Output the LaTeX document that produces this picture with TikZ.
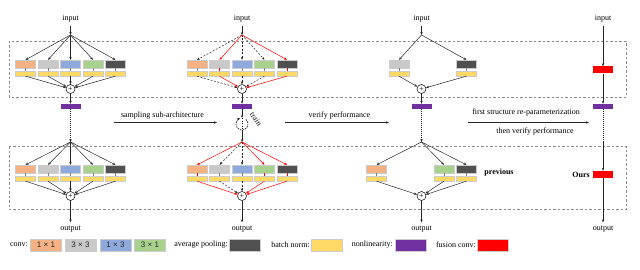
\documentclass[tikz,border=0pt]{standalone}
\usepackage{fontspec}
\setmainfont{Liberation Serif}
\newfontfamily\legendfont{Liberation Sans}
\usetikzlibrary{arrows.meta}

\definecolor{convA}{HTML}{F4B183}
\definecolor{convB}{HTML}{C9C9C9}
\definecolor{convC}{HTML}{8EA9DB}
\definecolor{convD}{HTML}{A9D18E}
\definecolor{poolgray}{HTML}{505050}
\definecolor{bnyellow}{HTML}{FFD966}
\definecolor{relupurple}{HTML}{7030A0}
\definecolor{fusered}{HTML}{FF0000}

\tikzset{
  convbox/.style={draw=white!80!black, line width=0.3pt, minimum width=20pt, minimum height=8pt, inner sep=0pt},
  bnbox/.style={fill=bnyellow, draw=white!80!black, line width=0.3pt, minimum width=20pt, minimum height=5pt, inner sep=0pt},
  relubox/.style={fill=relupurple, minimum width=20pt, minimum height=5pt, inner sep=0pt},
  fusebox/.style={fill=fusered, minimum width=20pt, minimum height=7pt, inner sep=0pt},
  addop/.style={circle, draw, line width=0.5pt, inner sep=0pt, minimum size=9pt},
  legbox/.style={draw=white!80!black, minimum width=31pt, minimum height=12pt, inner sep=0pt,
    font=\legendfont\fontsize{8}{9}\selectfont, text=black!85},
  arr/.style={-{Stealth[length=3pt,width=2.4pt]}, line width=0.5pt, black!85},
  pick/.style={arr, red},
  skip/.style={arr, dashed, dash pattern=on 2pt off 1.5pt},
  linkpick/.style={red, line width=0.4pt},
  linkskip/.style={black!50, line width=0.4pt},
  chain/.style={arr, dash pattern=on 1pt off 1pt, line width=0.8pt},
  frame/.style={black!45, dash pattern=on 2.5pt off 2pt, line width=0.5pt}
}

\begin{document}
\begin{tikzpicture}[x=1pt, y=-1pt, font=\fontsize{8}{9}\selectfont]
  \useasboundingbox (0,0) rectangle (640,270);

  % Dashed frames
  \draw[frame] (9,41) rectangle (626,97);
  \draw[frame] (9,146) rectangle (626,209.5);

  % Column 1, top block
  \node (in1) at (70.5,19) {input};
  \coordinate (fan1t) at (70.5,35);
  \draw[arr] (in1) -- (fan1t);
  \node[addop] (add1t) at (70.5,89) {+};
  \node[relubox] (r1) at (70.5,106.5) {};
  \foreach \k/\c in {1/convA,2/convB,3/convC,4/convD,5/poolgray} {
    \node[convbox, fill=\c] (c1t\k) at ({70.5+(\k-3)*22.5},64) {};
    \node[bnbox] (b1t\k) at ({70.5+(\k-3)*22.5},73.5) {};
    \draw[linkskip] (c1t\k) -- (b1t\k);
    \draw[arr] (fan1t) -- (c1t\k.north);
    \draw[arr] (b1t\k.south) -- (add1t);
  }
  \draw[arr] (add1t) -- (r1);
  \coordinate (fan1b) at (70.5,142);
  \draw[chain] (r1) -- (fan1b);

  % Column 1, bottom block
  \node[addop] (add1b) at (70.5,196) {+};
  \foreach \k/\c in {1/convA,2/convB,3/convC,4/convD,5/poolgray} {
    \node[convbox, fill=\c] (c1b\k) at ({70.5+(\k-3)*22.5},169) {};
    \node[bnbox] (b1b\k) at ({70.5+(\k-3)*22.5},178.5) {};
    \draw[linkskip] (c1b\k) -- (b1b\k);
    \draw[arr] (fan1b) -- (c1b\k.north);
    \draw[arr] (b1b\k.south) -- (add1b);
  }
  \node (out1) at (70.5,229) {output};
  \draw[arr] (add1b) -- (out1);

  % Column 2, top block (sampled paths in red)
  \node (in2) at (242,19) {input};
  \coordinate (fan2t) at (242,35);
  \draw[arr] (in2) -- (fan2t);
  \node[addop] (add2t) at (242,89) {+};
  \node[relubox] (r2) at (242,106.5) {};
  \foreach \k/\c/\s in {1/convA/skip,2/convB/pick,3/convC/skip,4/convD/skip,5/poolgray/pick} {
    \node[convbox, fill=\c] (c2t\k) at ({242+(\k-3)*22.5},64) {};
    \node[bnbox] (b2t\k) at ({242+(\k-3)*22.5},73.5) {};
    \draw[link\s] (c2t\k) -- (b2t\k);
    \draw[\s] (fan2t) -- (c2t\k.north);
    \draw[\s] (b2t\k.south) -- (add2t);
  }
  \draw[arr] (add2t) -- (r2);
  % train loop
  \coordinate (loop) at (242,124);
  \coordinate (looptop) at (242,118);
  \coordinate (loopbot) at (242,130);
  \coordinate (fan2b) at (242,142);
  \draw[arr] (r2) -- (looptop);
  \draw[dotted, line width=0.6pt] (looptop) -- (loopbot);
  \draw[arr] (loopbot) -- (fan2b);
  \draw[dashed, dash pattern=on 1.5pt off 1pt, line width=0.6pt, -{Stealth[length=2.5pt,width=2.2pt]}]
    (loop) ++(50:6pt) arc[start angle=50, end angle=-250, radius=6pt];
  \node[rotate=-55, inner sep=1pt] (trainlbl) at (256,119) {train};

  % Column 2, bottom block
  \node[addop] (add2b) at (242,196) {+};
  \foreach \k/\c/\s in {1/convA/pick,2/convB/skip,3/convC/skip,4/convD/pick,5/poolgray/pick} {
    \node[convbox, fill=\c] (c2b\k) at ({242+(\k-3)*22.5},169) {};
    \node[bnbox] (b2b\k) at ({242+(\k-3)*22.5},178.5) {};
    \draw[link\s] (c2b\k) -- (b2b\k);
    \draw[\s] (fan2b) -- (c2b\k.north);
    \draw[\s] (b2b\k.south) -- (add2b);
  }
  \node (out2) at (242,229) {output};
  \draw[arr] (add2b) -- (out2);

  % Column 3, top block
  \node (in3) at (421.5,19) {input};
  \coordinate (fan3t) at (421.5,35);
  \draw[arr] (in3) -- (fan3t);
  \node[addop] (add3t) at (421.5,89) {+};
  \node[relubox] (r3) at (421.5,106.5) {};
  \foreach \k/\c in {2/convB,5/poolgray} {
    \node[convbox, fill=\c] (c3t\k) at ({421.5+(\k-3)*22.5},64) {};
    \node[bnbox] (b3t\k) at ({421.5+(\k-3)*22.5},73.5) {};
    \draw[linkskip] (c3t\k) -- (b3t\k);
    \draw[arr] (fan3t) -- (c3t\k.north);
    \draw[arr] (b3t\k.south) -- (add3t);
  }
  \draw[arr] (add3t) -- (r3);
  \coordinate (fan3b) at (421.5,142);
  \draw[chain] (r3) -- (fan3b);

  % Column 3, bottom block
  \node[addop] (add3b) at (421.5,196) {+};
  \foreach \k/\c in {1/convA,4/convD,5/poolgray} {
    \node[convbox, fill=\c] (c3b\k) at ({421.5+(\k-3)*22.5},169) {};
    \node[bnbox] (b3b\k) at ({421.5+(\k-3)*22.5},178.5) {};
    \draw[linkskip] (c3b\k) -- (b3b\k);
    \draw[arr] (fan3b) -- (c3b\k.north);
    \draw[arr] (b3b\k.south) -- (add3b);
  }
  \node (out3) at (421.5,229) {output};
  \draw[arr] (add3b) -- (out3);
  \node (prev) at (499,172.5) {\textbf{previous}};

  % Column 4, fused
  \node (in4) at (603,19) {input};
  \node[fusebox] (f4t) at (603,70) {};
  \node[relubox] (r4) at (603,106.5) {};
  \draw[arr] (in4) -- (f4t);
  \draw[arr] (f4t) -- (r4);
  \coordinate (fan4b) at (603,142);
  \draw[chain, -] (r4) -- (fan4b);
  \node[fusebox] (f4b) at (603,174.5) {};
  \draw[arr] (fan4b) -- (f4b);
  \node (out4) at (603,229) {output};
  \draw[arr] (f4b) -- (out4);
  \node (ours) at (581,174.5) {\textbf{Ours}};

  % Steps between columns
  \coordinate (s1a) at (114,122.5);
  \coordinate (s1b) at (217,122.5);
  \draw[arr] (s1a) -- (s1b);
  \node (s1lbl) at (162.5,115.5) {sampling sub-architecture};
  \coordinate (s2a) at (285,122.5);
  \coordinate (s2b) at (389,122.5);
  \draw[arr] (s2a) -- (s2b);
  \node (s2lbl) at (339.5,116) {verify performance};
  \coordinate (s3a) at (468,122.5);
  \coordinate (s3b) at (589,122.5);
  \draw[arr] (s3a) -- (s3b);
  \node (s3lbl) at (526,112.5) {first structure re-parameterization};
  \node (s4lbl) at (535,131.5) {then verify performance};

  % Legend
  \node[anchor=east, inner sep=1pt] (lconv) at (29,245) {conv:};
  \node[legbox, fill=convA] (k11) at (46,245) {1 × 1};
  \node[legbox, fill=convB] (k33) at (80.5,245) {3 × 3};
  \node[legbox, fill=convC] (k13) at (115.5,245) {1 × 3};
  \node[legbox, fill=convD] (k31) at (150,245) {3 × 1};
  \node[anchor=east, inner sep=1pt] (lpool) at (229,245) {average pooling:};
  \node[legbox, fill=poolgray] (kpool) at (245,245) {};
  \node[anchor=east, inner sep=1pt] (lbn) at (311,245) {batch norm:};
  \node[legbox, fill=bnyellow] (kbn) at (327,245) {};
  \node[anchor=east, inner sep=1pt] (lrelu) at (394,245) {nonlinearity:};
  \node[legbox, fill=relupurple] (krelu) at (411,245) {};
  \node[anchor=east, inner sep=1pt] (lfuse) at (477,245) {fusion conv:};
  \node[legbox, fill=fusered] (kfuse) at (492.5,245) {};
\end{tikzpicture}
\end{document}
